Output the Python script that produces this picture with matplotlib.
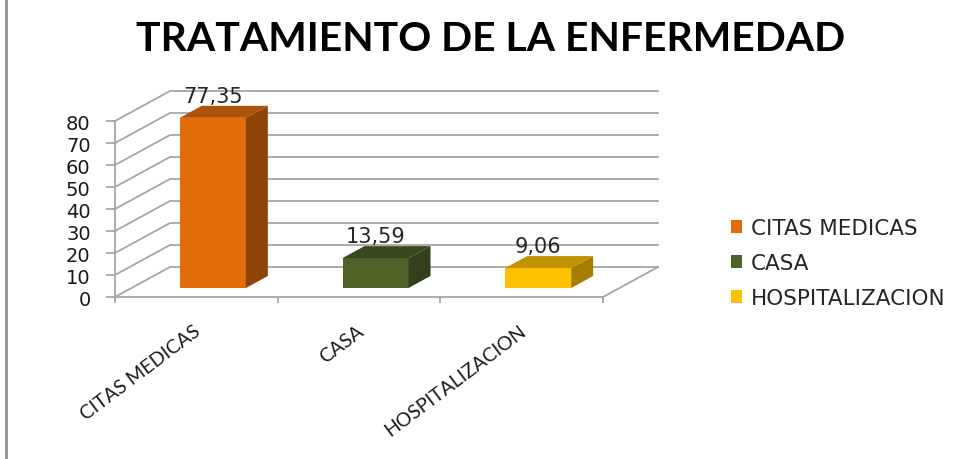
import matplotlib
matplotlib.use("Agg")
import matplotlib.pyplot as plt
from matplotlib.patches import Polygon, Patch

categorias = ["CITAS MEDICAS", "CASA", "HOSPITALIZACION"]
valores = [77.35, 13.59, 9.06]
etiquetas = ["77,35", "13,59", "9,06"]
yticks = [0, 10, 20, 30, 40, 50, 60, 70, 80]

colores = ["#E36C0A", "#4F6228", "#FFC000"]
lados = ["#8F4407", "#333F1A", "#A67D00"]
techos = ["#AD5208", "#3A481D", "#C29200"]
gris = "#A6A6A6"

W, H = 961, 460
fig = plt.figure(figsize=(W / 100, H / 100), dpi=100, facecolor="white")

# eje frontal del grafico, en pixeles: x 115-603, y 298-122
ax = fig.add_axes([115 / W, 1 - 298 / H, 488 / W, 176 / H])
ax.set_xlim(0, 3)
ax.set_ylim(0, 80)
ax.patch.set_visible(False)

# desplazamiento de la perspectiva (fondo respecto al frente)
dx = 55 / (488 / 3)
dy = 30 / 2.2

for v in yticks:
    ax.plot([0, dx, 3 + dx], [v, v + dy, v + dy], color=gris, lw=1.3, clip_on=False, zorder=1)
ax.plot([3, 3 + dx], [0, dy], color=gris, lw=1.3, clip_on=False, zorder=1)

ancho = 66 / (488 / 3)
for i, v in enumerate(valores):
    x0 = i + 0.5 - ancho / 2 + 0.3 * dx
    x1 = x0 + ancho
    y0 = 0.3 * dy
    y1 = y0 + v
    px = 0.4 * dx
    py = 0.4 * dy
    ax.add_patch(Polygon([(x0, y0), (x1, y0), (x1, y1), (x0, y1)], fc=colores[i], ec="none", clip_on=False, zorder=3))
    ax.add_patch(Polygon([(x1, y0), (x1 + px, y0 + py), (x1 + px, y1 + py), (x1, y1)], fc=lados[i], ec="none", clip_on=False, zorder=3))
    ax.add_patch(Polygon([(x0, y1), (x1, y1), (x1 + px, y1 + py), (x0 + px, y1 + py)], fc=techos[i], ec="none", clip_on=False, zorder=3))
    ax.text(i + 0.5 + 0.3 * dx, y1 + py + 4.5, etiquetas[i], ha="center", va="center", fontsize=15, color="#262626", zorder=4, clip_on=False)

for s in ["top", "right"]:
    ax.spines[s].set_visible(False)
for s in ["left", "bottom"]:
    ax.spines[s].set_color(gris)
    ax.spines[s].set_linewidth(1.3)

ax.set_yticks(yticks)
ax.set_yticklabels([str(v) for v in yticks], fontsize=14, color="#1a1a1a")
ax.set_xticks([0, 1, 2, 3])
ax.set_xticklabels([])
ax.tick_params(axis="y", color=gris, width=1.3, length=6.5, pad=11)
ax.tick_params(axis="x", color=gris, width=1.3, length=4.5)

for i, c in enumerate(categorias):
    ax.annotate(c, xy=(i + 0.5, 0), xytext=(-2, -18), textcoords="offset points", rotation=37,
                rotation_mode="anchor", ha="right", va="top", fontsize=14, family="Lato", color="#1a1a1a", annotation_clip=False)

handles = [Patch(fc=colores[i], ec="none") for i in range(3)]
fig.legend(handles, categorias, loc="center left", bbox_to_anchor=(731 / W, 1 - 264 / H), frameon=False,
           fontsize=15.5, labelspacing=0.7, handlelength=0.53, handleheight=0.53, handletextpad=0.38,
           borderpad=0, borderaxespad=0, labelcolor="#262626")

fig.text(491 / W, 1 - 40 / H, "TRATAMIENTO DE LA ENFERMEDAD", ha="center", va="center", fontsize=29.4,
         fontweight="bold", family="Lato", color="black")

# borde del recuadro a la izquierda
fig.add_artist(plt.Line2D([6 / W, 6 / W], [0, 1], color="#9A9A9A", lw=2.2))

fig.savefig("out.png", dpi=100)
